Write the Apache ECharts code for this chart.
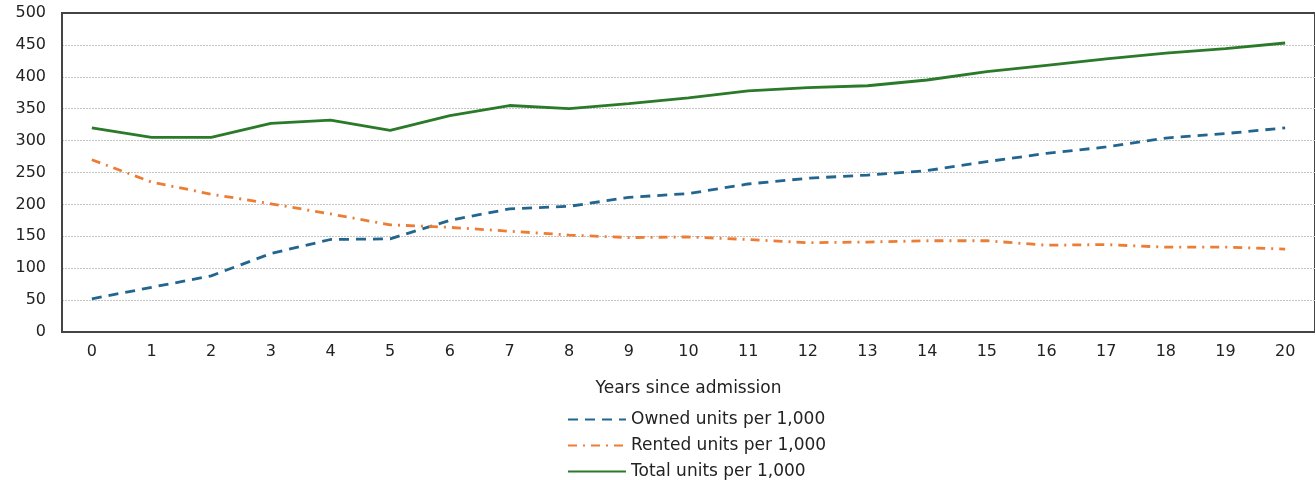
<!DOCTYPE html>
<html><head><meta charset="utf-8">
<script src="https://cdn.jsdelivr.net/npm/echarts@6/dist/echarts.min.js"></script>
<style>html,body{margin:0;padding:0;background:#fff}#c{width:1315px;height:480px}</style>
</head><body><div id="c"></div>
<script>
const years = ['0','1','2','3','4','5','6','7','8','9','10','11','12','13','14','15','16','17','18','19','20'];
const owned = [52,70,88,123,145,146,175,193,197,211,217,232,241,246,253,267,280,290,304,311,320];
const rented = [270,235,216,201,185,168,164,158,152,148,149,145,140,141,143,143,136,137,133,133,130];
const total = [320,305,305,327,332,316,339,355,350,358,367,378,383,386,395,408,418,428,437,444,453];
const yTicks = [0,50,100,150,200,250,300,350,400,450,500];

const font = 'DejaVu Sans';
const chart = echarts.init(document.getElementById('c'));
chart.setOption({
  animation: false,
  textStyle: {fontFamily: font},
  grid: {left: 62, top: 13, width: 1265, height: 319, show: true, borderColor: '#444', borderWidth: 2, containLabel: false},
  xAxis: {
    type: 'category', data: years, boundaryGap: true,
    name: 'Years since admission', nameLocation: 'middle', nameGap: 48,
    nameTextStyle: {fontFamily: font, fontSize: 17, color: '#222'},
    axisLine: {lineStyle: {color: '#444', width: 2}},
    axisTick: {show: false},
    axisLabel: {fontFamily: font, fontSize: 16, color: '#222', margin: 12}
  },
  yAxis: {
    type: 'value', min: yTicks[0], max: yTicks[yTicks.length-1], interval: 50,
    axisLine: {show: true, lineStyle: {color: '#444', width: 2}},
    axisTick: {show: false},
    axisLabel: {fontFamily: font, fontSize: 16, color: '#222', margin: 16},
    splitLine: {showMaxLine: false, showMinLine: false, lineStyle: {color: '#c4c4c4', type: [2,1], width: 1}}
  },
  legend: {
    orient: 'vertical', left: 567, top: 411, height: 90, padding: 0,
    itemWidth: 58, itemHeight: 14, itemGap: 9,
    textStyle: {fontFamily: font, fontSize: 17, color: '#222'},
    itemStyle: {opacity: 0},
    data: ['Owned units per 1,000','Rented units per 1,000','Total units per 1,000']
  },
  series: [
    {name: 'Owned units per 1,000', type: 'line', data: owned, symbol: 'none',
     lineStyle: {color: '#22668f', width: 2.8, type: [10,7]}, itemStyle: {color: '#22668f'}},
    {name: 'Rented units per 1,000', type: 'line', data: rented, symbol: 'none',
     lineStyle: {color: '#ec7d35', width: 2.8, type: [9,6,2,6]}, itemStyle: {color: '#ec7d35'}},
    {name: 'Total units per 1,000', type: 'line', data: total, symbol: 'none',
     lineStyle: {color: '#2a7a2a', width: 2.8, type: 'solid'}, itemStyle: {color: '#2a7a2a'}}
  ]
});
</script></body></html>
